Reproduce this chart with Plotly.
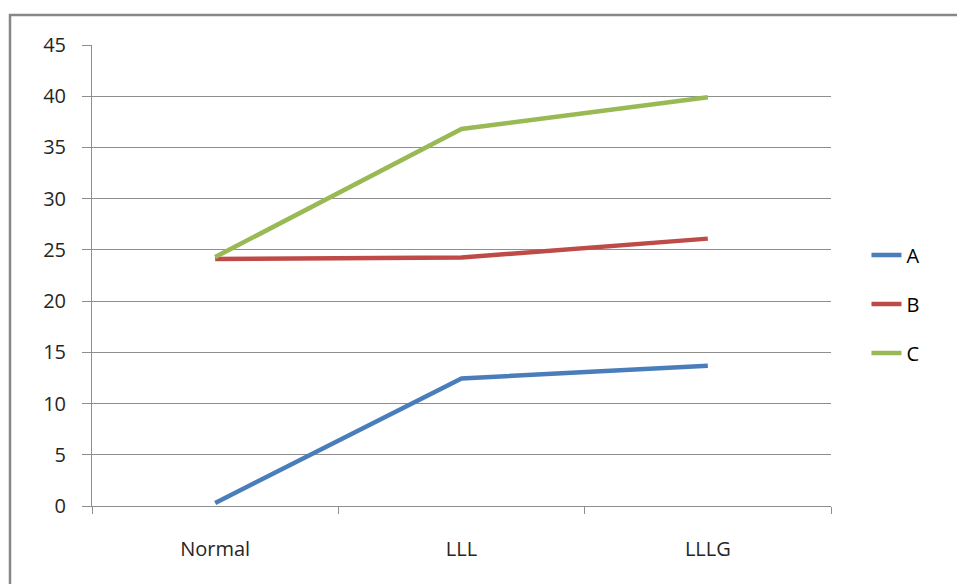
import plotly.graph_objects as go

# Categories and series values
categories = ["Normal", "LLL", "LLLG"]
series_a = [0.3, 12.45, 13.7]
series_b = [24.1, 24.25, 26.1]
series_c = [24.3, 36.8, 39.9]
series_names = ["A", "B", "C"]
series_colors = ["#4A7EBB", "#BE4B48", "#98B954"]
y_ticks = [0, 5, 10, 15, 20, 25, 30, 35, 40, 45]

FONT = "Open Sans"
GRID = "#8E8E8E"

fig = go.Figure()
for name, vals, col in zip(series_names, [series_a, series_b, series_c], series_colors):
    fig.add_trace(go.Scatter(
        x=categories, y=vals, name=name, mode="lines",
        line=dict(color=col, width=4.5),
        legendgroup=name,
    ))

fig.update_layout(
    width=957, height=584,
    margin=dict(l=92, r=126, t=45, b=78),
    paper_bgcolor="white", plot_bgcolor="white",
    font=dict(family=FONT, size=20, color="#262626"),
    showlegend=True,
    legend=dict(
        x=1.048, y=0.438, xanchor="left", yanchor="middle",
        font=dict(size=20, color="#000000"),
        tracegroupgap=20, bgcolor="rgba(0,0,0,0)",
    ),
    xaxis=dict(
        type="category", tickson="boundaries", ticks="outside", ticklen=7,
        range=[-0.5, 2.5],
        tickcolor=GRID, showline=True, linecolor=GRID, linewidth=1,
        showgrid=False, zeroline=False, tickfont=dict(size=20, color="#262626"),
        ticklabelstandoff=25,
    ),
    yaxis=dict(
        range=[0, 45], tickvals=y_ticks, ticks="outside", ticklen=9,
        tickcolor=GRID, showline=True, linecolor=GRID, linewidth=1,
        showgrid=True, gridcolor=GRID, gridwidth=1, zeroline=False,
        tickfont=dict(size=20, color="#262626"), ticklabelstandoff=12,
    ),
)

# Chart area border (top and left edges visible within the frame)
fig.add_shape(type="rect", xref="paper", yref="paper",
              x0=(10 - 92) / 739, x1=(990 - 92) / 739,
              y0=(506 - 620) / 461, y1=(506 - 15) / 461,
              line=dict(color="#878787", width=2.5), layer="below")

fig.write_html("out.html")
